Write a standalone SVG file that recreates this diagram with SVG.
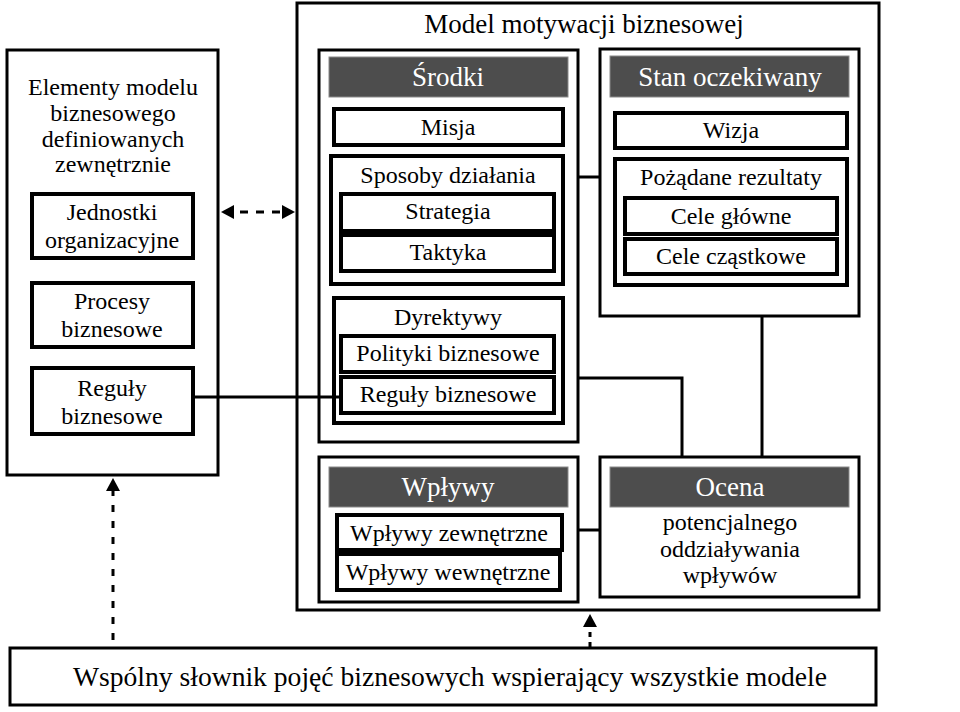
<svg xmlns="http://www.w3.org/2000/svg" xmlns:xlink="http://www.w3.org/1999/xlink" width="960" height="712" viewBox="0 0 960 712">
<style>
text{font-family:"Liberation Serif","Times New Roman",serif;font-size:24px;fill:#000;text-anchor:middle}
.big{font-size:27px}
.bottom{font-size:27.6px}
.hdtxt{font-size:27px;fill:#fff}
.outer{fill:#fff;stroke:#000;stroke-width:3}
.inner{fill:#fff;stroke:#000;stroke-width:4}
.hd{fill:#4d4d4d;stroke:#8a8a8a;stroke-width:1}
.conn{fill:none;stroke:#000;stroke-width:3}
.dash{fill:none;stroke:#000;stroke-width:3}
.head{fill:#000}
</style>
<defs>
<path id="ah" d="M0,0 L-13,-7 L-13,7 Z"/>
</defs>
<rect width="960" height="712" fill="#fff"/>

<g id="main">
<rect class="outer" x="297" y="3" width="582" height="607"/>
<text class="big" x="584" y="33">Model motywacji biznesowej</text>
</g>

<g id="left">
<rect class="outer" x="7" y="50" width="211" height="425"/>
<text x="113" y="95">Elementy modelu</text>
<text x="113" y="121">biznesowego</text>
<text x="113" y="147">definiowanych</text>
<text x="113" y="172">zewnętrznie</text>
</g>
<g id="jednostki">
<rect class="inner" x="32" y="194" width="161" height="64"/>
<text x="112" y="220">Jednostki</text>
<text x="112" y="248">organizacyjne</text>
</g>
<g id="procesy">
<rect class="inner" x="32" y="283" width="161" height="64"/>
<text x="112" y="309">Procesy</text>
<text x="112" y="337">biznesowe</text>
</g>
<g id="reguly-left">
<rect class="inner" x="32" y="368" width="161" height="66"/>
<text x="112" y="396">Reguły</text>
<text x="112" y="424">biznesowe</text>
</g>

<g id="srodki">
<rect class="outer" x="319" y="50" width="259" height="392"/>
<rect class="hd" x="329" y="57" width="239" height="40"/>
<text class="hdtxt" x="448" y="86">Środki</text>
</g>
<g id="misja">
<rect class="inner" x="334" y="109" width="229" height="36"/>
<text x="448" y="135">Misja</text>
</g>
<g id="sposoby">
<rect class="inner" x="331" y="156" width="232" height="128"/>
<text x="448" y="183">Sposoby działania</text>
</g>
<g id="strategia">
<rect class="inner" x="341" y="194" width="213" height="37"/>
<text x="448" y="219">Strategia</text>
</g>
<g id="taktyka">
<rect class="inner" x="341" y="235" width="213" height="36"/>
<text x="448" y="260">Taktyka</text>
</g>
<g id="dyrektywy">
<rect class="inner" x="334" y="298" width="229" height="125"/>
<text x="448" y="325">Dyrektywy</text>
</g>
<g id="polityki">
<rect class="inner" x="341" y="336" width="213" height="36"/>
<text x="448" y="361">Polityki biznesowe</text>
</g>
<g id="reguly">
<rect class="inner" x="341" y="377" width="213" height="36"/>
<text x="448" y="402">Reguły biznesowe</text>
</g>

<g id="stan">
<rect class="outer" x="600" y="49" width="259" height="267"/>
<rect class="hd" x="610" y="56" width="239" height="41"/>
<text class="hdtxt" x="730" y="86">Stan oczekiwany</text>
</g>
<g id="wizja">
<rect class="inner" x="615" y="113" width="232" height="35"/>
<text x="731" y="138">Wizja</text>
</g>
<g id="rezultaty">
<rect class="inner" x="615" y="159" width="232" height="126"/>
<text x="731" y="185">Pożądane rezultaty</text>
</g>
<g id="cele-glowne">
<rect class="inner" x="625" y="198" width="212" height="36"/>
<text x="731" y="224">Cele główne</text>
</g>
<g id="cele-czastkowe">
<rect class="inner" x="625" y="239" width="212" height="35"/>
<text x="731" y="264">Cele cząstkowe</text>
</g>

<g id="wplywy">
<rect class="outer" x="319" y="457" width="259" height="145"/>
<rect class="hd" x="329" y="467" width="239" height="40"/>
<text class="hdtxt" x="448" y="496">Wpływy</text>
</g>
<g id="wplywy-zew">
<rect class="inner" x="337" y="515" width="225" height="35"/>
<text x="449" y="541">Wpływy zewnętrzne</text>
</g>
<g id="wplywy-wew">
<rect class="inner" x="337" y="554" width="223" height="36"/>
<text x="448" y="580">Wpływy wewnętrzne</text>
</g>

<g id="ocena">
<rect class="outer" x="600" y="457" width="259" height="140"/>
<rect class="hd" x="610" y="467" width="239" height="40"/>
<text class="hdtxt" x="730" y="496">Ocena</text>
<text x="730" y="530">potencjalnego</text>
<text x="730" y="557">oddziaływania</text>
<text x="730" y="583">wpływów</text>
</g>

<g id="slownik">
<rect class="outer" x="10" y="648" width="866" height="57"/>
<text class="bottom" x="450" y="686">Wspólny słownik pojęć biznesowych wspierający wszystkie modele</text>
</g>

<g id="connectors">
<line class="conn" x1="193" y1="397" x2="341" y2="397"/>
<line class="conn" x1="578" y1="177" x2="600" y2="177"/>
<polyline class="conn" points="578,378 682,378 682,457"/>
<line class="conn" x1="762" y1="316" x2="762" y2="457"/>
<line class="conn" x1="578" y1="530" x2="600" y2="530"/>
<line class="dash" x1="240" y1="212" x2="280" y2="212" stroke-dasharray="8 8"/>
<use href="#ah" class="head" transform="translate(295,212)"/>
<use href="#ah" class="head" transform="translate(221,212) rotate(180)"/>
<line class="dash" x1="113" y1="640" x2="113" y2="490" stroke-dasharray="7 9"/>
<use href="#ah" class="head" transform="translate(113,478) rotate(-90)"/>
<line class="dash" x1="590" y1="647" x2="590" y2="626" stroke-dasharray="5 5"/>
<use href="#ah" class="head" transform="translate(590,614) rotate(-90)"/>
</g>
</svg>
